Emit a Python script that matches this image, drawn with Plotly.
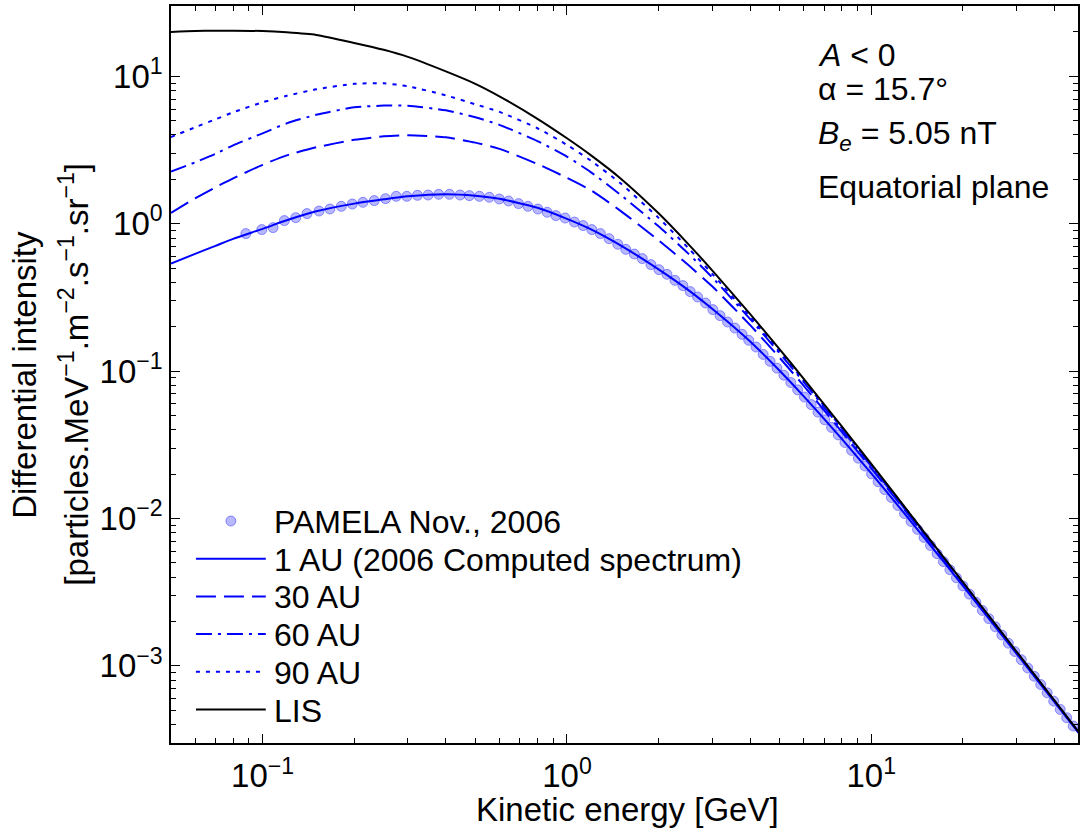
import numpy as np
import plotly.graph_objects as go

# ---------------- data ----------------
E_model = [0.05, 0.06, 0.07, 0.08, 0.1, 0.12, 0.15, 0.2, 0.25, 0.3, 0.4, 0.5, 0.6, 0.8,
           1.0, 1.2, 1.5, 2, 2.5, 3, 4, 5, 6, 8, 10, 12, 15, 20, 25, 30, 40, 50]

lis = [20.0, 20.3, 20.4, 20.4, 20.3, 19.9, 19.1, 16.85, 15.13, 13.56, 10.81, 8.90, 7.32, 5.15,
       3.80, 2.91, 2.03, 1.177, 0.7305, 0.483, 0.2436, 0.1405, 0.0887, 0.04215, 0.02347,
       0.01446, 0.00797, 0.003697, 0.002035, 0.001252, 0.0005815, 0.000320]

au90 = [3.875, 4.508, 5.108, 5.698, 6.664, 7.374, 8.163, 8.896, 8.966, 8.555, 7.431, 6.457,
        5.743, 4.445, 3.424, 2.672, 1.879, 1.096, 0.6864, 0.4572, 0.2335, 0.1358, 0.08607,
        0.04111, 0.02299, 0.01421, 0.007861, 0.003657, 0.002019, 0.001245, 0.0005788, 0.0003188]

au60 = [2.257, 2.609, 2.980, 3.403, 4.105, 4.799, 5.481, 6.162, 6.328, 6.308, 5.880, 5.270,
        4.688, 3.634, 2.857, 2.232, 1.571, 0.9603, 0.6296, 0.4329, 0.2253, 0.1320, 0.08421,
        0.04035, 0.02263, 0.01406, 0.007812, 0.003639, 0.002010, 0.001241, 0.0005769, 0.0003180]

au30 = [1.182, 1.487, 1.766, 2.032, 2.509, 2.911, 3.299, 3.709, 3.916, 3.978, 3.856, 3.550,
        3.222, 2.541, 2.048, 1.685, 1.223, 0.7717, 0.5263, 0.3761, 0.2051, 0.1231, 0.07947,
        0.03868, 0.02187, 0.01373, 0.007679, 0.003606, 0.001998, 0.001233, 0.0005751, 0.0003177]

au1 = [0.5362, 0.6246, 0.7080, 0.7900, 0.9235, 1.0546, 1.2138, 1.3688, 1.4638, 1.5345, 1.5832,
       1.5465, 1.4753, 1.2818, 1.0795, 0.9162, 0.7136, 0.4905, 0.3560, 0.2647, 0.1588, 0.1005,
       0.06745, 0.03467, 0.02023, 0.01286, 0.007314, 0.003489, 0.001952, 0.001212, 0.000568, 0.0003148]

E_pam = [0.0881, 0.0994, 0.1082, 0.1179, 0.1285, 0.1399, 0.1532, 0.1664, 0.1814, 0.1971,
         0.2136, 0.2327, 0.2534, 0.2748, 0.2977, 0.3227, 0.3499, 0.3791, 0.4110, 0.4455,
         0.4779, 0.5155, 0.5557, 0.5993, 0.6428, 0.6934, 0.7445, 0.8026, 0.8611, 0.9196,
         0.9865, 1.058, 1.130, 1.207, 1.288, 1.375, 1.469, 1.561, 1.665, 1.768,
         1.888, 2.006, 2.131, 2.263, 2.404, 2.541, 2.687, 2.854, 3.016, 3.186,
         3.370, 3.561, 3.762, 3.957, 4.182, 4.412, 4.651, 4.899, 5.162, 5.438,
         5.728, 6.030, 6.347, 6.682, 7.034, 7.405, 7.790, 8.193, 8.619, 9.066,
         9.535, 10.02, 10.53, 11.07, 11.64, 12.23, 12.86, 13.51, 14.19, 14.90,
         15.65, 16.44, 17.26, 18.13, 19.04, 20.00, 21.01, 22.06, 23.17, 24.33,
         25.56, 26.85, 28.20, 29.62, 31.11, 32.67, 34.31, 36.04, 37.84, 39.75,
         41.76, 43.85, 46.06]

F_pam = [0.857, 0.912, 0.941, 1.050, 1.100, 1.171, 1.219, 1.258, 1.312, 1.360,
         1.397, 1.435, 1.480, 1.534, 1.534, 1.558, 1.566, 1.583, 1.583, 1.566,
         1.551, 1.534, 1.511, 1.471, 1.426, 1.369, 1.312, 1.258, 1.195, 1.135,
         1.093, 1.027, 0.971, 0.912, 0.857, 0.792, 0.725, 0.670, 0.623, 0.580,
         0.528, 0.488, 0.4536, 0.4130, 0.3803, 0.3463, 0.3182, 0.2897, 0.2614, 0.2379,
         0.2154, 0.1961, 0.1777, 0.1618, 0.1457, 0.1298, 0.1165, 0.1048, 0.09380, 0.08371,
         0.07465, 0.06671, 0.05926, 0.05262, 0.04672, 0.04150, 0.03692, 0.03279, 0.02897, 0.02566,
         0.02271, 0.02010, 0.01777, 0.01571, 0.01389, 0.01225, 0.01081, 0.009541, 0.008433, 0.007444,
         0.006558, 0.005779, 0.005100, 0.004494, 0.003961, 0.003489, 0.003069, 0.002704, 0.002379, 0.002093,
         0.001842, 0.001621, 0.001426, 0.001252, 0.001102, 0.0009678, 0.0008500, 0.0007476, 0.0006569, 0.0005770,
         0.0005069, 0.0004453, 0.0003912]

x_tickvals = [0.1, 1, 10]
x_ticktext = ["10<sup>−1</sup>", "10<sup>0</sup>", "10<sup>1</sup>"]
x_minor = [0.06, 0.07, 0.08, 0.09, 0.2, 0.3, 0.4, 0.5, 0.6, 0.7, 0.8, 0.9,
           2, 3, 4, 5, 6, 7, 8, 9, 20, 30, 40]
y_tickvals = [1e-3, 1e-2, 1e-1, 1, 10]
y_ticktext = ["10<sup>−3</sup>", "10<sup>−2</sup>", "10<sup>−1</sup>", "10<sup>0</sup>", "10<sup>1</sup>"]
y_minor = [4e-4, 5e-4, 6e-4, 7e-4, 8e-4, 9e-4,
           2e-3, 3e-3, 4e-3, 5e-3, 6e-3, 7e-3, 8e-3, 9e-3,
           0.02, 0.03, 0.04, 0.05, 0.06, 0.07, 0.08, 0.09,
           0.2, 0.3, 0.4, 0.5, 0.6, 0.7, 0.8, 0.9,
           2, 3, 4, 5, 6, 7, 8, 9, 20]

series_names = ["1 AU (2006 Computed spectrum)", "30 AU", "60 AU", "90 AU", "LIS"]
assert len(E_pam) == len(F_pam)

# ---------------- figure ----------------
FONT = "Liberation Sans, Arial, Helvetica, sans-serif"
BLUE = "#0000ff"
W_FIG, H_FIG = 1080, 838
L, T, R, B = 171, 6, 0, 95
PW, PH = W_FIG - L - R, H_FIG - T - B


def px(x):
    return (x - L) / PW


def py(y):
    return (T + PH - y) / PH


fig = go.Figure()

fig.add_trace(go.Scatter(
    x=E_pam, y=F_pam, mode="markers", name="PAMELA Nov., 2006", showlegend=False,
    marker=dict(size=10, color="rgba(0,0,255,0.28)",
                line=dict(color="rgba(0,0,255,0.38)", width=1))))

styles = [
    (au1, BLUE, "solid"),
    (au30, BLUE, "20px,8px"),
    (au60, BLUE, "16px,6px,3px,6px"),
    (au90, BLUE, "4px,6px"),
    (lis, "black", "solid"),
]
for (vals, col, dash), name in zip(styles, series_names):
    fig.add_trace(go.Scatter(
        x=E_model, y=vals, mode="lines", name=name, showlegend=False,
        line=dict(color=col, width=2, dash=dash, shape="spline", smoothing=0.6)))

axis_common = dict(
    type="log", showgrid=False, zeroline=False, showline=True, linecolor="black",
    linewidth=1.6, mirror="ticks", ticks="inside", ticklen=9, tickwidth=1.2,
    tickcolor="black", tickmode="array",
    tickfont=dict(family=FONT, size=33, color="black"),
)

fig.update_layout(
    width=W_FIG, height=H_FIG,
    margin=dict(l=L, r=R, t=T, b=B, pad=0),
    paper_bgcolor="white", plot_bgcolor="white",
    showlegend=False,
    font=dict(family=FONT, color="black"),
    xaxis=dict(**axis_common, range=[np.log10(0.05), np.log10(47.77)],
               tickvals=x_tickvals, ticktext=x_ticktext, ticklabelstandoff=3,
               minor=dict(tickmode="array", tickvals=x_minor, ticks="inside", ticklen=5,
                          tickwidth=1, tickcolor="black", showgrid=False)),
    yaxis=dict(**axis_common, range=[np.log10(3e-4), np.log10(30)],
               tickvals=y_tickvals, ticktext=y_ticktext,
               minor=dict(tickmode="array", tickvals=y_minor, ticks="inside", ticklen=5,
                          tickwidth=1, tickcolor="black", showgrid=False)),
)

ann = []
# axis titles
ann.append(dict(text="Kinetic energy [GeV]", x=px(629), y=py(809), xref="paper", yref="paper",
                xanchor="center", yanchor="middle", showarrow=False,
                font=dict(family=FONT, size=33, color="black")))
ann.append(dict(text="Differential intensity", x=px(24), y=0.5, xref="paper", yref="paper",
                xanchor="center", yanchor="middle", textangle=-90, showarrow=False,
                font=dict(family=FONT, size=33, color="black")))
ann.append(dict(text="[particles.MeV<sup>−1</sup>.m<sup>−2</sup>.s<sup>−1</sup>.sr<sup>−1</sup>]",
                x=px(73), y=0.5, xref="paper", yref="paper",
                xanchor="center", yanchor="middle", textangle=-90, showarrow=False,
                font=dict(family=FONT, size=33, color="black")))

# top-right text block
info = [("<i>A</i> &lt; 0", 55), ("α = 15.7°", 89), ("<i>B</i><sub><i>e</i></sub> = 5.05 nT", 136),
        ("Equatorial plane", 187)]
for txt, yy in info:
    ann.append(dict(text=txt, x=px(817), y=py(yy), xref="paper", yref="paper",
                    xanchor="left", yanchor="middle", showarrow=False,
                    font=dict(family=FONT, size=32, color="black")))

# legend (drawn by hand to reproduce the long line samples)
legend_rows = [521, 558.7, 596.4, 634.1, 671.8, 709.5]
legend_labels = ["PAMELA Nov., 2006"] + series_names
shapes = []
for i, (lbl, yy) in enumerate(zip(legend_labels, legend_rows)):
    ann.append(dict(text=lbl, x=px(272), y=py(yy + 1), xref="paper", yref="paper",
                    xanchor="left", yanchor="middle", showarrow=False,
                    font=dict(family=FONT, size=32, color="black")))
    if i == 0:
        shapes.append(dict(type="circle", xref="paper", yref="paper",
                           x0=px(226), x1=px(236), y0=py(yy + 5), y1=py(yy - 5),
                           fillcolor="rgba(0,0,255,0.28)",
                           line=dict(color="rgba(0,0,255,0.38)", width=1)))
    else:
        vals, col, dash = styles[i - 1]
        shapes.append(dict(type="line", xref="paper", yref="paper",
                           x0=px(196), x1=px(266), y0=py(yy), y1=py(yy),
                           line=dict(color=col, width=2, dash=dash)))

fig.update_layout(annotations=ann, shapes=shapes)

fig.write_html("out.html")
